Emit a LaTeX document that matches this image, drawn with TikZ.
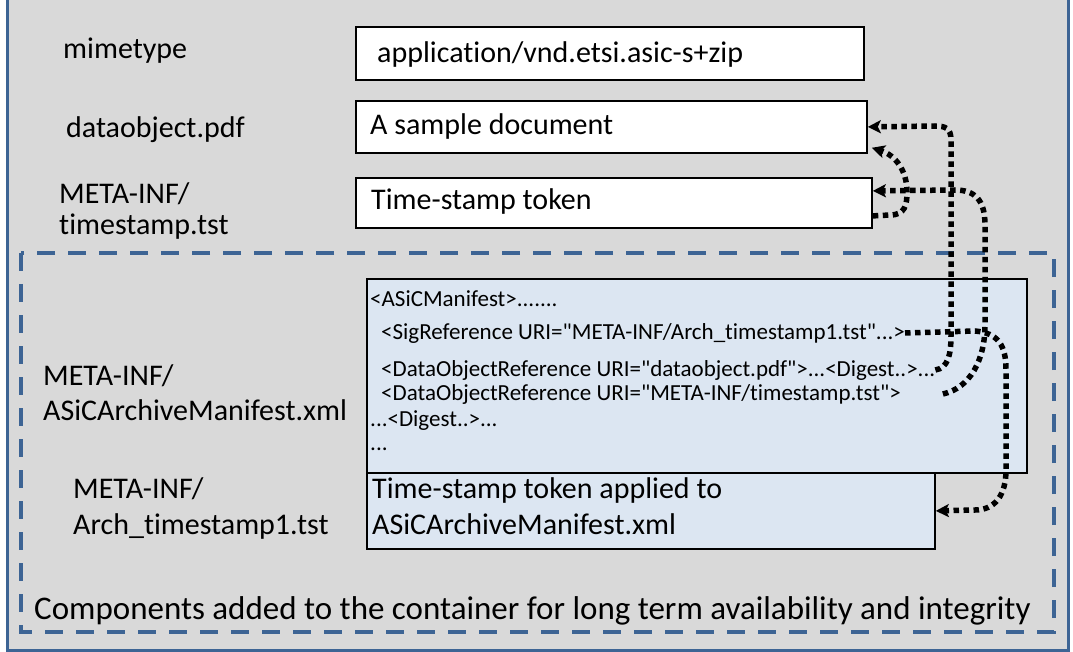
\documentclass[tikz,border=0pt]{standalone}
\usepackage{fontspec}
\setmainfont{Carlito}[Ligatures={TeXOff,CommonOff}]
\usetikzlibrary{arrows.meta,calc}
\definecolor{bggray}{HTML}{D9D9D9}
\definecolor{frameblue}{HTML}{3D6494}
\definecolor{paleblue}{HTML}{DCE6F2}
\begin{document}
\begin{tikzpicture}[x=1pt,y=-1pt,
  lbl/.style={anchor=base west, inner sep=0pt, font=\fontsize{30}{36}\selectfont},
  mtxt/.style={anchor=base west, inner sep=0pt, font=\fontsize{23}{27}\selectfont},
  boxw/.style={draw=black, line width=1.8pt, fill=white, anchor=north west, inner sep=0pt},
  boxb/.style={draw=black, line width=1.8pt, fill=paleblue, anchor=north west, inner sep=0pt},
  dotarrow/.style={line width=5.5pt, dash pattern=on 5.5pt off 4.5pt,
    -{Stealth[length=13pt,width=13pt,inset=3pt]}},
]
\useasboundingbox (0,0) rectangle (1073,652);
\clip (0,0) rectangle (1073,652);
% outer frame
\draw[frameblue, line width=3pt, fill=bggray] (7,-20) rectangle (1068,650);
% dashed area
\draw[frameblue, line width=4pt, dash pattern=on 18pt off 13pt] (21,253) rectangle (1054,632);

% boxes
\node[boxw, minimum width=508pt, minimum height=53pt] (mimebox) at (355,26) {};
\node[boxw, minimum width=511pt, minimum height=52pt] (docbox) at (355,100) {};
\node[boxw, minimum width=516pt, minimum height=50pt] (tsbox) at (355,177) {};
\node[boxb, minimum width=660pt, minimum height=194pt] (manbox) at (366,278) {};
\node[boxb, minimum width=568pt, minimum height=76pt] (archbox) at (366,472) {};

% labels
\node[lbl] (lmime) at (63,59) {mimetype};
\node[lbl] (ldoc) at (66,138) {dataobject.pdf};
\node[lbl] (lts1) at (59,204) {META-INF/};
\node[lbl] (lts2) at (59,235) {timestamp.tst};
\node[lbl] (lman1) at (43,385) {META-INF/};
\node[lbl] (lman2) at (43,420) {ASiCArchiveManifest.xml};
\node[lbl] (larch1) at (73,498) {META-INF/};
\node[lbl] (larch2) at (73,534) {Arch\_timestamp1.tst};

% box texts
\node[lbl] (tmime) at (377,63) {application/vnd.etsi.asic-s+zip};
\node[lbl] (tdoc) at (370,135) {A sample document};
\node[lbl] (tts) at (371,210) {Time-stamp token};
\node[lbl] (tarch1) at (372,498) {Time-stamp token applied to};
\node[lbl] (tarch2) at (372,534) {ASiCArchiveManifest.xml};

% manifest lines
\node[mtxt] (m1) at (370,306) {<ASiCManifest>.......};
\node[mtxt] (m2) at (381,339) {<SigReference URI="META-INF/Arch\_timestamp1.tst"...>};
\node[mtxt] (m3) at (381,376) {<DataObjectReference URI="dataobject.pdf">...<Digest..>...};
\node[mtxt] (m4) at (381,400) {<DataObjectReference URI="META-INF/timestamp.tst">};
\node[mtxt] (m5) at (370,426) {...<Digest..>...};
\node[mtxt] (m6) at (370,450) {...};

% bottom caption
\node[anchor=base west, inner sep=0pt, font=\fontsize{33}{39}\selectfont] (comp) at (34,619)
  {Components added to the container for long term availability and integrity};

% arrows
\draw[dotarrow] (m3.east) .. controls (948,368) and (951,355) .. (951,335) -- (951,140)
  .. controls (951,128) and (945,126) .. (935,126) -- (docbox.east);
\draw[dotarrow] ($(tsbox.east)+(0,13)$) -- (890,215) .. controls (905,215) and (907,205) .. (907,192)
  .. controls (907,170) and (895,155) .. ($(docbox.south east)+(4,-6)$);
\draw[dotarrow] ($(m4.east)+(42,0)$) .. controls (970,388) and (985,360) .. (985,325) -- (985,225)
  .. controls (985,200) and (975,190) .. (955,190) -- ($(tsbox.east)+(0,-12)$);
\draw[dotarrow] (m2.east) -- (975,331) .. controls (998,333) and (1006,345) .. (1006,370) -- (1006,470)
  .. controls (1006,495) and (995,510) .. (975,510) -- (archbox.east);
\end{tikzpicture}
\end{document}
